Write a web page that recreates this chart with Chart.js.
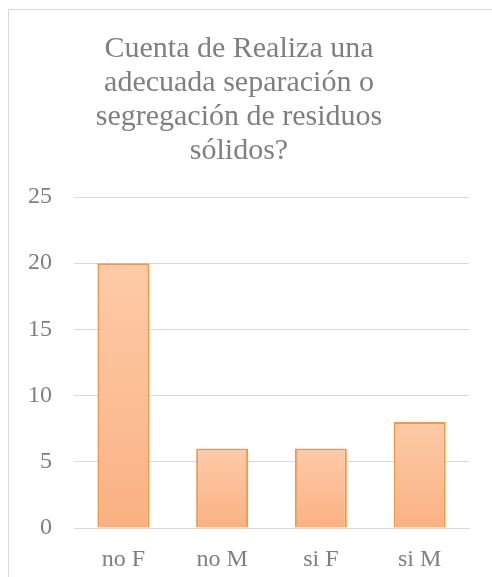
<!DOCTYPE html>
<html>
<head>
<meta charset="utf-8">
<script src="https://cdn.jsdelivr.net/npm/chart.js@4"></script>
<style>
  html, body { margin: 0; padding: 0; background: #fff; overflow: hidden; }
  #box {
    position: absolute; left: 8px; top: 9px;
    width: 488px; height: 567px;
    border: 1px solid #d9d9d9;
  }
</style>
</head>
<body>
<div id="box"><canvas id="c" width="488" height="567"></canvas></div>
<script>
// Chart data
const titleLines = ['Cuenta de Realiza una', 'adecuada separación o', 'segregación de residuos', 'sólidos?'];
const categories = ['no F', 'no M', 'si F', 'si M'];
const counts = [20, 6, 6, 8];
const yTicks = [0, 5, 10, 15, 20, 25];

const grey = '#7f7f7f';

// per-bar vertical gradient, light at top
function barFill(ctx) {
  const chart = ctx.chart;
  if (!chart.chartArea || ctx.raw === undefined) return '#fbbf94';
  const y = chart.scales.y;
  const top = y.getPixelForValue(ctx.raw);
  const bottom = y.getPixelForValue(0);
  const g = chart.ctx.createLinearGradient(0, top, 0, bottom);
  g.addColorStop(0, '#fdcba8');
  g.addColorStop(1, '#fab182');
  return g;
}

new Chart(document.getElementById('c'), {
  type: 'bar',
  data: {
    labels: categories,
    datasets: [{
      data: counts,
      backgroundColor: barFill,
      borderColor: '#f79646',
      borderWidth: 2,
      barPercentage: 0.526,
      categoryPercentage: 1
    }]
  },
  options: {
    responsive: false,
    animation: false,
    layout: { padding: { left: 0, right: 28, top: 0, bottom: 0 } },
    plugins: {
      legend: { display: false },
      tooltip: { enabled: false },
      title: {
        display: true,
        text: titleLines,
        color: grey,
        font: { family: '"Liberation Serif", "Times New Roman", serif', size: 30, weight: 'normal', lineHeight: 34 / 30 },
        padding: { top: 22, bottom: 29 }
      }
    },
    scales: {
      x: {
        grid: { display: false, drawTicks: false },
        border: { display: true, color: '#d9d9d9', width: 1 },
        ticks: {
          color: grey,
          padding: 17,
          font: { family: '"Liberation Serif", "Times New Roman", serif', size: 24 }
        },
        afterFit: s => { s.height = 49; }
      },
      y: {
        min: 0,
        max: 25,
        afterBuildTicks: s => { s.ticks = yTicks.map(v => ({ value: v })); },
        grid: { color: '#d9d9d9', drawTicks: false },
        border: { display: false },
        ticks: {
          color: grey,
          padding: 22,
          font: { family: '"Liberation Serif", "Times New Roman", serif', size: 24 }
        },
        afterFit: s => { s.width = 65; }
      }
    }
  }
});
</script>
</body>
</html>
